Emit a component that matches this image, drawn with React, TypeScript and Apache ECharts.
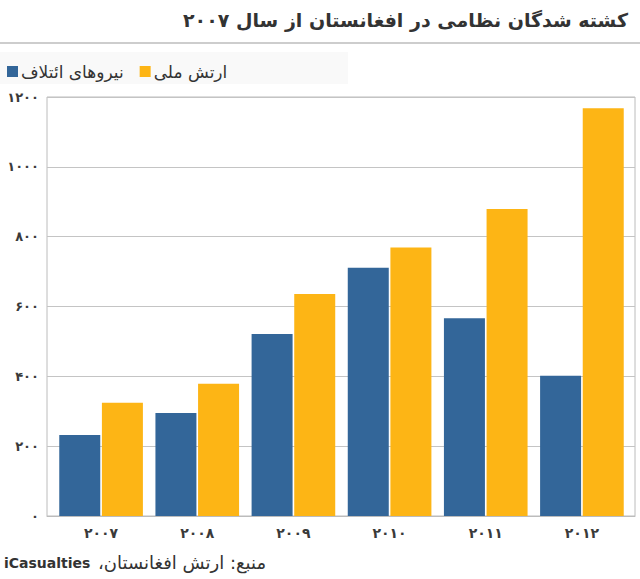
import React, { useEffect, useRef } from "react";
import * as echarts from "echarts";

const titleText = "کشته شدگان نظامی در افغانستان از سال ۲۰۰۷";
const sourceLatin = "iCasualties";
const sourceArabic = "\u202Bمنبع: ارتش افغانستان،\u202C";
const years = ["۲۰۰۷", "۲۰۰۸", "۲۰۰۹", "۲۰۱۰", "۲۰۱۱", "۲۰۱۲"];
const seriesNames = ["نیروهای ائتلاف", "ارتش ملی"];
const coalition = [232, 295, 521, 711, 566, 402];
const nationalArmy = [324, 379, 636, 769, 879, 1168];
const persianDigits = ["۰", "۱", "۲", "۳", "۴", "۵", "۶", "۷", "۸", "۹"];

const toPersian = (n: number) =>
  String(n)
    .split("")
    .map((c) => persianDigits[Number(c)] ?? c)
    .join("");

const FONT = "'DejaVu Sans', sans-serif";

export default function App() {
  const ref = useRef<HTMLDivElement>(null);
  useEffect(() => {
    if (!ref.current) return;
    const chart = echarts.init(ref.current, null, { renderer: "svg" });
    chart.setOption({
      animation: false,
      backgroundColor: "#ffffff",
      textStyle: { fontFamily: FONT },
      title: {
        text: titleText,
        right: 7,
        top: 5,
        textStyle: { fontSize: 19, fontWeight: "bold", color: "#333", fontFamily: FONT },
      },
      graphic: [
        {
          type: "line",
          shape: { x1: 0, y1: 43, x2: 640, y2: 43 },
          style: { stroke: "#bdbdbd", lineWidth: 1.5 },
        },
        {
          type: "rect",
          shape: { x: 0, y: 52, width: 348, height: 32 },
          style: { fill: "#f9f9f9" },
          z: -1,
        },
        {
          type: "text",
          left: 4,
          top: 556,
          style: { text: sourceLatin, font: `bold 14px ${FONT}`, fill: "#333" },
        },
        {
          type: "text",
          left: 98,
          top: 553,
          style: { text: sourceArabic, font: `18px ${FONT}`, fill: "#333" },
        },
      ],
      legend: {
        left: 2,
        top: 58,
        itemWidth: 11,
        itemHeight: 11,
        itemGap: 16,
        icon: "rect",
        textStyle: { fontSize: 17, color: "#333", fontFamily: FONT, padding: [0, 0, 0, -2] },
        data: seriesNames,
      },
      grid: [
        {
          left: 47,
          right: 5,
          top: 97,
          bottom: 63,
          show: true,
          borderColor: "#bcbcbc",
          borderWidth: 1,
        },
        {
          left: 53,
          right: 10,
          top: 97,
          bottom: 63,
        },
      ],
      xAxis: [
        {
          type: "category",
          gridIndex: 0,
          data: years,
          axisLine: { lineStyle: { color: "#bcbcbc" } },
          axisTick: { show: false },
          axisLabel: { show: false },
        },
        {
          type: "category",
          gridIndex: 1,
          data: years,
          axisLine: { show: false },
          axisTick: { show: false },
          axisLabel: {
            fontSize: 14,
            fontWeight: "bold",
            color: "#3a3a3a",
            margin: 10,
            fontFamily: FONT,
          },
        },
      ],
      yAxis: [
        {
          type: "value",
          gridIndex: 0,
          min: 0,
          max: 1200,
          interval: 200,
          axisLine: { show: false },
          axisTick: { show: false },
          splitLine: { lineStyle: { color: "#c4c4c4", width: 1 } },
          axisLabel: {
            fontSize: 13,
            fontWeight: "bold",
            color: "#3a3a3a",
            margin: 8,
            fontFamily: FONT,
            formatter: (v: number) => toPersian(v),
          },
        },
        {
          type: "value",
          gridIndex: 1,
          min: 0,
          max: 1200,
          interval: 200,
          show: false,
          splitLine: { show: false },
        },
      ],
      series: [
        {
          name: seriesNames[0],
          type: "bar",
          xAxisIndex: 1,
          yAxisIndex: 1,
          data: coalition,
          barWidth: 41,
          barGap: "4%",
          itemStyle: { color: "#336699" },
        },
        {
          name: seriesNames[1],
          type: "bar",
          xAxisIndex: 1,
          yAxisIndex: 1,
          data: nationalArmy,
          barWidth: 41,
          barGap: "4%",
          itemStyle: { color: "#FDB515" },
        },
      ],
    });
    return () => chart.dispose();
  }, []);
  return (
    <div
      ref={ref}
      style={{ position: "fixed", left: 0, top: 0, width: 640, height: 579 }}
    />
  );
}
